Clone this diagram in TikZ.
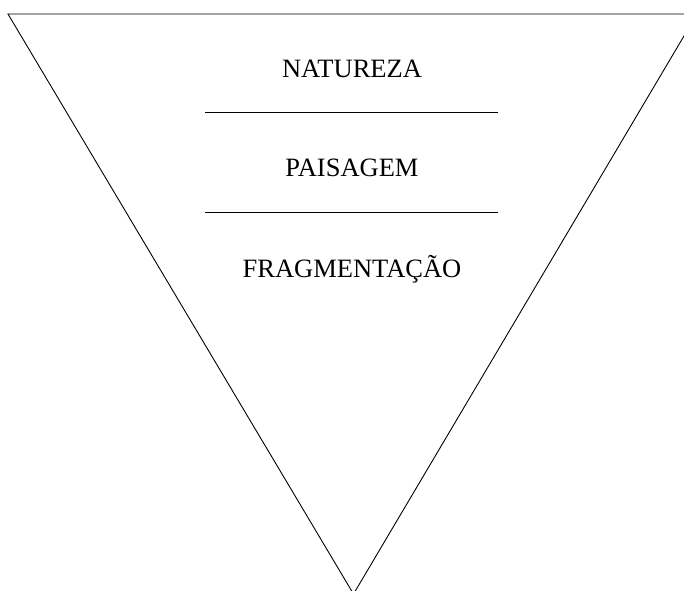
\documentclass[tikz,border=0pt]{standalone}
\usepackage{fontspec}
\setmainfont{Liberation Serif}
\begin{document}
\begin{tikzpicture}[x=1pt,y=-1pt,
  label/.style={font=\fontsize{26.5}{30}\selectfont,anchor=base,inner sep=0pt},
  edge/.style={line width=0.9pt,black}]
\useasboundingbox (0,0) rectangle (684,590);
\clip (0,0) rectangle (684,590);
\coordinate (tl) at (8,14);
\coordinate (tr) at (697,14);
\coordinate (bt) at (353.5,594);
\draw[edge] (tl) -- (tr) -- (bt) -- cycle;
\node[label] (nat) at (352,77) {NATUREZA};
\node[label] (pai) at (352,176) {PAISAGEM};
\node[label] (fra) at (352,277) {FRAGMENTAÇÃO};
\coordinate (l1a) at (205,112);
\coordinate (l1b) at (498,112);
\coordinate (l2a) at (205,212);
\coordinate (l2b) at (498,212);
\draw[edge] (l1a) -- (l1b);
\draw[edge] (l2a) -- (l2b);
\end{tikzpicture}
\end{document}
